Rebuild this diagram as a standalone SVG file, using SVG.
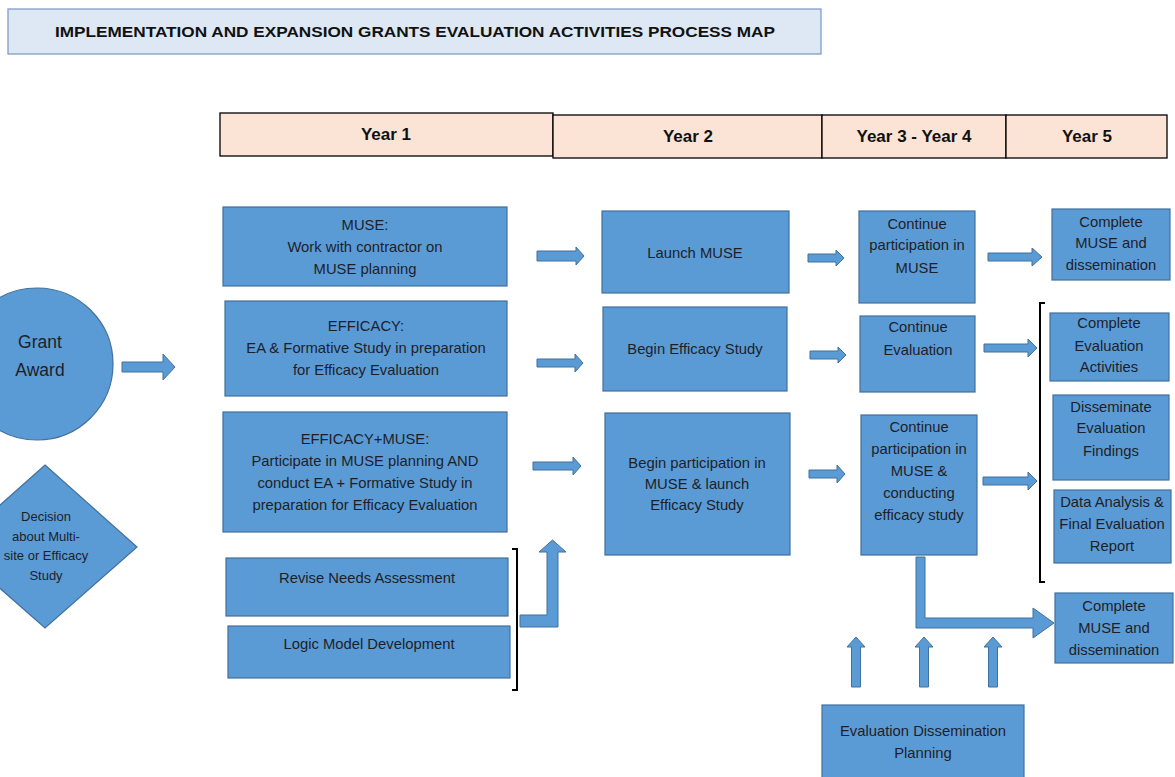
<svg xmlns="http://www.w3.org/2000/svg" width="1175" height="777" viewBox="0 0 1175 777">
<style>
.box{fill:#5b9bd5;stroke:#41719c;stroke-width:1.2}
.arr{fill:#5b9bd5;stroke:#41719c;stroke-width:1}
.yr{fill:#fbe4d5;stroke:#000;stroke-width:1.3}
.t{font-family:"Liberation Sans",Arial,sans-serif;font-size:14.8px;fill:#1e1e28;text-anchor:middle;dominant-baseline:central}
.yt{font-family:"Liberation Sans",Arial,sans-serif;font-size:17px;font-weight:bold;fill:#111;text-anchor:middle;dominant-baseline:central}
.br{fill:none;stroke:#000;stroke-width:2}
</style>
<rect width="1175" height="777" fill="#fff"/>
<g id="title">
<rect x="8" y="9" width="813" height="45" fill="#dde8f4" stroke="#7f9fc9" stroke-width="1.3"/>
<text x="415" y="31" font-family="Liberation Sans,Arial,sans-serif" font-size="15" font-weight="bold" fill="#111" text-anchor="middle" dominant-baseline="central" textLength="720" lengthAdjust="spacingAndGlyphs">IMPLEMENTATION AND EXPANSION GRANTS EVALUATION ACTIVITIES PROCESS MAP</text>
</g>
<g id="years">
<g id="year1"><rect class="yr" x="220" y="113" width="333" height="43"/><text class="yt" x="386" y="134">Year 1</text></g>
<g id="year2"><rect class="yr" x="553" y="115" width="269" height="43"/><text class="yt" x="688" y="136">Year 2</text></g>
<g id="year34"><rect class="yr" x="822" y="115" width="184" height="43"/><text class="yt" x="914" y="136">Year 3 - Year 4</text></g>
<g id="year5"><rect class="yr" x="1006" y="115" width="161" height="43"/><text class="yt" x="1087" y="136">Year 5</text></g>
</g>
<g id="grant"><circle cx="37" cy="364" r="76" class="box"/><text class="t" style="font-size:17.5px" x="40" y="342">Grant</text><text class="t" style="font-size:17.5px" x="40" y="370">Award</text></g>
<g id="decision"><polygon class="box" points="45,465 137,547 45,628 -47,547"/>
<text class="t" style="font-size:13px" x="46" y="516">Decision</text><text class="t" style="font-size:13px" x="46" y="536">about Multi-</text><text class="t" style="font-size:13px" x="46" y="555">site or Efficacy</text><text class="t" style="font-size:13px" x="46" y="575">Study</text></g>
<g id="muse1"><rect class="box" x="223" y="207" width="284" height="79"/><text class="t" x="365" y="225">MUSE:</text><text class="t" x="365" y="247">Work with contractor on</text><text class="t" x="365" y="269">MUSE planning</text></g>
<g id="eff1"><rect class="box" x="225" y="301" width="282" height="95"/><text class="t" x="366" y="326">EFFICACY:</text><text class="t" x="366" y="348">EA &amp; Formative Study in preparation</text><text class="t" x="366" y="370">for Efficacy Evaluation</text></g>
<g id="effmuse1"><rect class="box" x="223" y="412" width="284" height="120"/><text class="t" x="365" y="439">EFFICACY+MUSE:</text><text class="t" x="365" y="461">Participate in MUSE planning AND</text><text class="t" x="365" y="483">conduct EA + Formative Study in</text><text class="t" x="365" y="505">preparation for Efficacy Evaluation</text></g>
<g id="revise"><rect class="box" x="226" y="558" width="282" height="58"/><text class="t" x="367" y="578">Revise Needs Assessment</text></g>
<g id="logic"><rect class="box" x="228" y="626" width="282" height="52"/><text class="t" x="369" y="644">Logic Model Development</text></g>
<g id="launch"><rect class="box" x="602" y="211" width="187" height="82"/><text class="t" x="695" y="253">Launch MUSE</text></g>
<g id="begineff"><rect class="box" x="603" y="307" width="184" height="84"/><text class="t" x="695" y="349">Begin Efficacy Study</text></g>
<g id="beginpart"><rect class="box" x="605" y="413" width="185" height="142"/><text class="t" x="697" y="463">Begin participation in</text><text class="t" x="697" y="484">MUSE &amp; launch</text><text class="t" x="697" y="505">Efficacy Study</text></g>
<g id="contmuse"><rect class="box" x="859" y="211" width="116" height="92"/><text class="t" x="917" y="224">Continue</text><text class="t" x="917" y="245">participation in</text><text class="t" x="917" y="268">MUSE</text></g>
<g id="conteval"><rect class="box" x="860" y="316" width="115" height="76"/><text class="t" x="918" y="327">Continue</text><text class="t" x="918" y="350">Evaluation</text></g>
<g id="contboth"><rect class="box" x="861" y="415" width="116" height="140"/><text class="t" x="919" y="427">Continue</text><text class="t" x="919" y="449">participation in</text><text class="t" x="919" y="471">MUSE &amp;</text><text class="t" x="919" y="493">conducting</text><text class="t" x="919" y="515">efficacy study</text></g>
<g id="complmuse"><rect class="box" x="1052" y="209" width="118" height="71"/><text class="t" x="1111" y="222">Complete</text><text class="t" x="1111" y="243">MUSE and</text><text class="t" x="1111" y="265">dissemination</text></g>
<g id="compleval"><rect class="box" x="1050" y="313" width="119" height="68"/><text class="t" x="1109" y="323">Complete</text><text class="t" x="1109" y="346">Evaluation</text><text class="t" x="1109" y="367">Activities</text></g>
<g id="dissem"><rect class="box" x="1053" y="395" width="116" height="85"/><text class="t" x="1111" y="407">Disseminate</text><text class="t" x="1111" y="428">Evaluation</text><text class="t" x="1111" y="451">Findings</text></g>
<g id="analysis"><rect class="box" x="1054" y="490" width="117" height="73"/><text class="t" x="1112" y="502">Data Analysis &amp;</text><text class="t" x="1112" y="524">Final Evaluation</text><text class="t" x="1112" y="546">Report</text></g>
<g id="complmuse2"><rect class="box" x="1055" y="593" width="118" height="70"/><text class="t" x="1114" y="606">Complete</text><text class="t" x="1114" y="628">MUSE and</text><text class="t" x="1114" y="650">dissemination</text></g>
<g id="edp"><rect class="box" x="822" y="705" width="202" height="80"/><text class="t" x="923" y="731">Evaluation Dissemination</text><text class="t" x="923" y="753">Planning</text></g>
<g id="connectors">
<polygon class="arr" points="122,362 163,362 163,354 175,367 163,380 163,372 122,372"/>
<polygon class="arr" points="537,251 576,251 576,247 584,256 576,265 576,261 537,261"/>
<polygon class="arr" points="808,254 836,254 836,250 844,258 836,266 836,262 808,262"/>
<polygon class="arr" points="988,253 1032,253 1032,248 1042,257 1032,266 1032,261 988,261"/>
<polygon class="arr" points="537,359 575,359 575,354 583,363 575,372 575,367 537,367"/>
<polygon class="arr" points="810,351 838,351 838,347 846,355 838,363 838,359 810,359"/>
<polygon class="arr" points="984,344 1028,344 1028,339 1037,348 1028,357 1028,352 984,352"/>
<polygon class="arr" points="533,462 573,462 573,457 581,466 573,475 573,470 533,470"/>
<polygon class="arr" points="809,470 837,470 837,465 845,474 837,483 837,478 809,478"/>
<polygon class="arr" points="983,477 1028,477 1028,472 1037,481 1028,490 1028,485 983,485"/>
<polygon class="arr" points="520,615 547,615 547,552 539,552 552.5,540 566,552 558,552 558,627 520,627"/>
<polygon class="arr" points="916,557 925,557 925,618 1033,618 1033,608 1054,623 1033,638 1033,628 916,628"/>
<polygon class="arr" points="851.5,687 851.5,647 847,647 856,637 865,647 860.5,647 860.5,687"/>
<polygon class="arr" points="919.5,687 919.5,647 915,647 924,637 933,647 928.5,647 928.5,687"/>
<polygon class="arr" points="988.5,687 988.5,647 984,647 993,637 1002,647 997.5,647 997.5,687"/>
<path class="br" d="M512,549 H517 V690 H512"/>
<path class="br" d="M1045,303 H1040 V582 H1045"/>
</g>
</svg>
